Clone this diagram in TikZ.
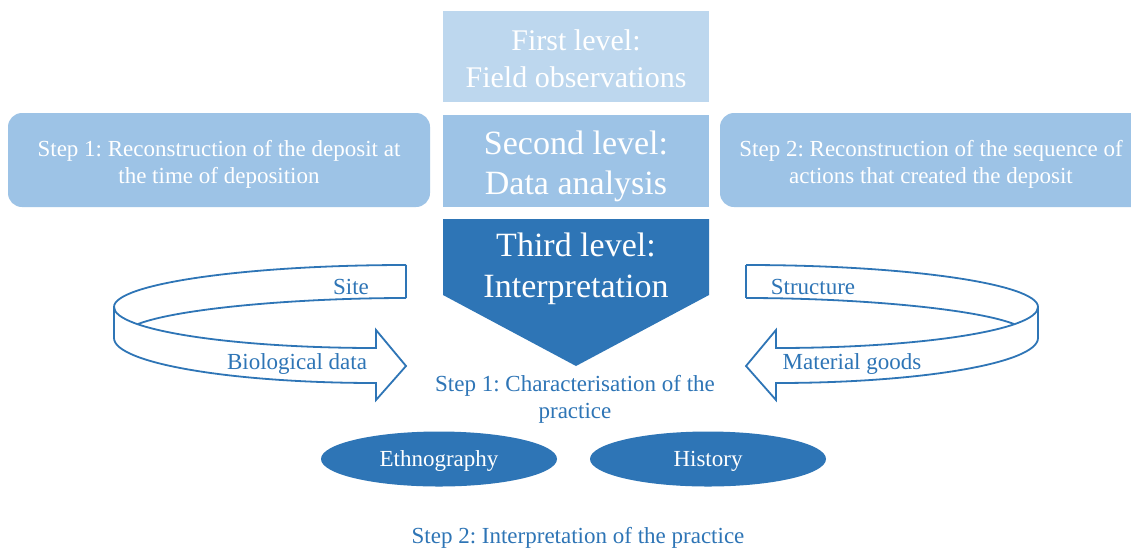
\documentclass[tikz,border=0pt]{standalone}
\usepackage{fontspec}
\setmainfont{Liberation Serif}
\usetikzlibrary{shapes.geometric}
\definecolor{levA}{HTML}{BDD7EE}
\definecolor{levB}{HTML}{9DC3E6}
\definecolor{levC}{HTML}{2E75B6}
\frenchspacing
\begin{document}
\frenchspacing
\begin{tikzpicture}[x=1pt,y=-1pt,
  small/.style={font=\fontsize{23}{27}\selectfont\frenchspacing, align=center},
  boxA/.style={fill=levA, minimum width=266, minimum height=91, inner sep=0},
  boxB/.style={fill=levB, minimum width=266, minimum height=92, inner sep=0},
  sidebox/.style={fill=levB, rounded corners=14, minimum height=94, inner sep=0},
  txtA/.style={text=white, align=center, font=\fontsize{30}{37}\selectfont},
  txtB/.style={text=white, align=center, font=\fontsize{34}{40}\selectfont},
  txtS/.style={text=white, small},
  oval/.style={ellipse, fill=levC, minimum width=236, minimum height=55, inner sep=0, text=white, small, text height=19},
  ribbon/.style={draw=levC, line width=1.8, line join=miter},
  bluetext/.style={text=levC, small}
]
\clip (0,0) rectangle (1131,550);
\fill[white] (0,0) rectangle (1131,550);

% level boxes
\node[boxA] (first) at (576,56.5) {};
\node[txtA] (firsttxt) at (first.center) [yshift=-2pt] {First level:\\Field observations};
\node[boxB] (second) at (576,161) {};
\node[txtB] (secondtxt) at (second.center) [yshift=-5pt] {Second level:\\Data analysis};
\node[sidebox, minimum width=422] (leftbox) at (219,160) {};
\node[txtS] (lefttxt) at (leftbox.center) [yshift=-4.5pt] {Step 1: Reconstruction of the deposit at\\the time of deposition};
\node[sidebox, minimum width=425] (rightbox) at (932.5,160) {};
\node[txtS] (righttxt) at (931,164.5) {Step 2: Reconstruction of the sequence of\\actions that created the deposit};

% third level pentagon
\fill[levC] (443,219) -- (709,219) -- (709,295) -- (576,366) -- (443,295) -- cycle;
\node[text=white, align=center, font=\fontsize{34}{41}\selectfont] (third) at (576,269) {Third level:\\Interpretation};

% left ribbon arrow
\draw[ribbon] (406,265) -- (406,298);
\draw[ribbon] (406,265) .. controls (245,265) and (114,284) .. (114,307)
  -- (114,338) .. controls (114,363) and (231,383) .. (376,383)
  -- (376,400) -- (406,366) -- (376,330) -- (376,348)
  .. controls (231,348) and (114,330) .. (114,307);
\draw[ribbon] (406,298) .. controls (300,298) and (180,308) .. (138,324);
\node[bluetext] (site) at (351,287) {Site};
\node[bluetext] (bio) at (297,364) {Biological data};

% right ribbon arrow
\draw[ribbon] (746,265) -- (746,298);
\draw[ribbon] (746,265) .. controls (907,265) and (1038,284) .. (1038,307)
  -- (1038,338) .. controls (1038,363) and (921,383) .. (776,383)
  -- (776,400) -- (746,366) -- (776,330) -- (776,348)
  .. controls (921,348) and (1038,330) .. (1038,307);
\draw[ribbon] (746,298) .. controls (852,298) and (972,308) .. (1014,324);
\node[bluetext] (struct) at (813,287) {Structure};
\node[bluetext] (goods) at (852,364) {Material goods};

% step texts and ovals
\node[bluetext] (stepone) at (575,399) {Step 1: Characterisation of the\\practice};
\node[oval] (ethno) at (439,459) {Ethnography};
\node[oval] (hist) at (708,459) {History};
\node[bluetext] (steptwo) at (578,538) {Step 2: Interpretation of the practice};
\end{tikzpicture}
\end{document}
